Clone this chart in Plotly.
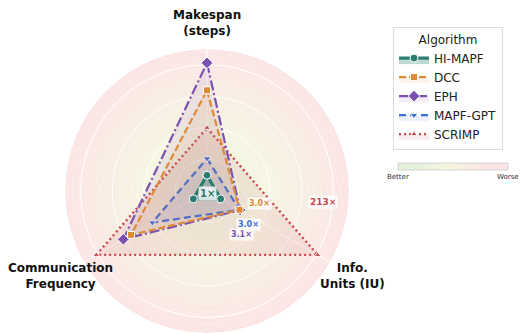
import plotly.graph_objects as go
from plotly.colors import sample_colorscale

# ---- data (radial scores; 1 unit = one grid ring) ----
axes_names = ["Makespan<br>(steps)", "Info.<br>Units (IU)", "Communication<br>Frequency"]
axis_theta = [0, 120, 240]
algorithms = ["HI-MAPF", "DCC", "EPH", "MAPF-GPT", "SCRIMP"]
hi_mapf = [0.5, 0.5, 0.5]
dcc = [3.19, 1.19, 2.78]
eph = [4.06, 1.21, 3.06]
mapf_gpt = [1.03, 1.19, 2.0]
scrimp = [2.0, 4.05, 4.05]
iu_ratio_labels = ["1×", "3.0×", "3.1×", "3.0×", "213×"]
grid_levels = [1, 2, 3, 4]
r_max = 4.5

series = {"HI-MAPF": hi_mapf, "DCC": dcc, "EPH": eph, "MAPF-GPT": mapf_gpt, "SCRIMP": scrimp}
colors = {"HI-MAPF": "#2a7d70", "DCC": "#dd8a36", "EPH": "#7b52ae",
          "MAPF-GPT": "#3b6fd6", "SCRIMP": "#c9474f"}
fills = {"HI-MAPF": "rgba(42,125,112,0.30)", "DCC": "rgba(221,138,54,0.10)",
         "EPH": "rgba(123,82,174,0.10)", "MAPF-GPT": "rgba(59,111,214,0.10)",
         "SCRIMP": "rgba(201,71,79,0.10)"}
dashes = {"HI-MAPF": "solid", "DCC": "7px,3px", "EPH": "10px,3px,2px,3px",
          "MAPF-GPT": "7px,4px", "SCRIMP": "2px,3px"}
widths = {"HI-MAPF": 3.2, "DCC": 2.2, "EPH": 2.2, "MAPF-GPT": 2.2, "SCRIMP": 2.4}
symbols = {"HI-MAPF": "circle", "DCC": "square", "EPH": "diamond",
           "MAPF-GPT": "triangle-down", "SCRIMP": "triangle-up"}
msize = {"HI-MAPF": 8, "DCC": 7, "EPH": 9, "MAPF-GPT": 7, "SCRIMP": 6}

bg_scale = [[0, "#e4f1dc"], [0.4, "#f6f6e2"], [1, "#fbe4e4"]]

fig = go.Figure()

# background gradient rings
n_rings = 60
step = r_max / n_rings
bases = [i * step for i in range(n_rings)]
ring_cols = sample_colorscale(bg_scale, [(b + step / 2) / r_max for b in bases])
fig.add_trace(go.Barpolar(r=[step] * n_rings, base=bases, theta=[0] * n_rings,
                          width=[360] * n_rings, marker=dict(color=ring_cols, line=dict(width=0)),
                          showlegend=False, hoverinfo="skip"))

# grid rings and spokes
circle_theta = list(range(0, 361, 3))
for lv in grid_levels:
    fig.add_trace(go.Scatterpolar(r=[lv] * len(circle_theta), theta=circle_theta, mode="lines",
                                  line=dict(color="white", width=1), showlegend=False,
                                  hoverinfo="skip"))
for th in axis_theta:
    fig.add_trace(go.Scatterpolar(r=[0, r_max], theta=[th, th], mode="lines",
                                  line=dict(color="white", width=1), showlegend=False,
                                  hoverinfo="skip"))

# algorithm polygons (HI-MAPF drawn last, on top)
for rank, name in reversed(list(enumerate(algorithms))):
    vals = series[name]
    fig.add_trace(go.Scatterpolar(
        r=vals + [vals[0]], theta=axis_theta + [axis_theta[0]], mode="lines+markers",
        name=name, legendrank=rank + 1, fill="toself", fillcolor=fills[name],
        line=dict(color=colors[name], width=widths[name], dash=dashes[name]),
        marker=dict(symbol=symbols[name], size=msize[name], color=colors[name],
                    line=dict(color="white", width=1))))

W, H = 520, 333
def px(x, y):
    return x / W, 1 - y / H

annotations = []
# axis titles
for text, (x, y) in zip(axes_names, [(207, 23), (352, 276), (60, 276)]):
    ax_, ay_ = px(x, y)
    annotations.append(dict(x=ax_, y=ay_, xref="paper", yref="paper", text="<b>" + text + "</b>",
                            xanchor="center", yanchor="middle",
                            showarrow=False, font=dict(size=12, color="#111111")))
# ratio labels
label_specs = [("HI-MAPF", 207, 193, 10), ("DCC", 259, 203, 8), ("EPH", 241, 234, 8),
               ("MAPF-GPT", 248, 224, 8), ("SCRIMP", 323, 202, 9)]
for (name, x, y, fs), txt in zip(label_specs, iu_ratio_labels):
    ax_, ay_ = px(x, y)
    annotations.append(dict(x=ax_, y=ay_, xref="paper", yref="paper", text="<b>" + txt + "</b>",
                            xanchor="center", yanchor="middle",
                            showarrow=False, font=dict(size=fs, color=colors[name]),
                            bgcolor="rgba(255,255,255,0.8)", borderpad=1))
# colorbar labels
for txt, x in [("Better", 398), ("Worse", 508)]:
    ax_, ay_ = px(x, 177)
    annotations.append(dict(x=ax_, y=ay_, xref="paper", yref="paper", text=txt, showarrow=False,
                            xanchor="center", yanchor="middle",
                            font=dict(size=7, color="#333333")))

# Better/Worse gradient bar
fig.add_trace(go.Heatmap(z=[[0, 0.5, 1]], colorscale=bg_scale, showscale=False, zsmooth="best",
                         xaxis="x", yaxis="y", hoverinfo="skip"))

x0, y1 = px(398, 163)
x1, y0 = px(508, 170)
fig.update_layout(
    width=W, height=H, margin=dict(l=0, r=0, t=0, b=0),
    paper_bgcolor="white", plot_bgcolor="white",
    font=dict(family="DejaVu Sans", color="#222222"),
    polar=dict(domain=dict(x=[63 / W, 351 / W], y=[0, 1 - 49 / H]),
               bgcolor="rgba(0,0,0,0)",
               radialaxis=dict(visible=False, range=[0, r_max]),
               angularaxis=dict(rotation=90, direction="clockwise", showgrid=False,
                                showticklabels=False, showline=False, ticks="",
                                thetaunit="degrees")),
    xaxis=dict(domain=[x0, x1], visible=False, fixedrange=True),
    yaxis=dict(domain=[y0, y1], visible=False, fixedrange=True),
    legend=dict(x=393 / W, y=1 - 27 / H, xanchor="left", yanchor="top",
                bordercolor="#dddddd", borderwidth=1, bgcolor="white",
                font=dict(size=12, color="#222222"),
                title=dict(text="Algorithm", side="top center", font=dict(size=12)),
                tracegroupgap=0),
    annotations=annotations,
    shapes=[dict(type="rect", xref="paper", yref="paper", x0=x0, x1=x1, y0=y0, y1=y1,
                 line=dict(color="#cccccc", width=0.8))],
    showlegend=True,
)

fig.write_html("out.html")
